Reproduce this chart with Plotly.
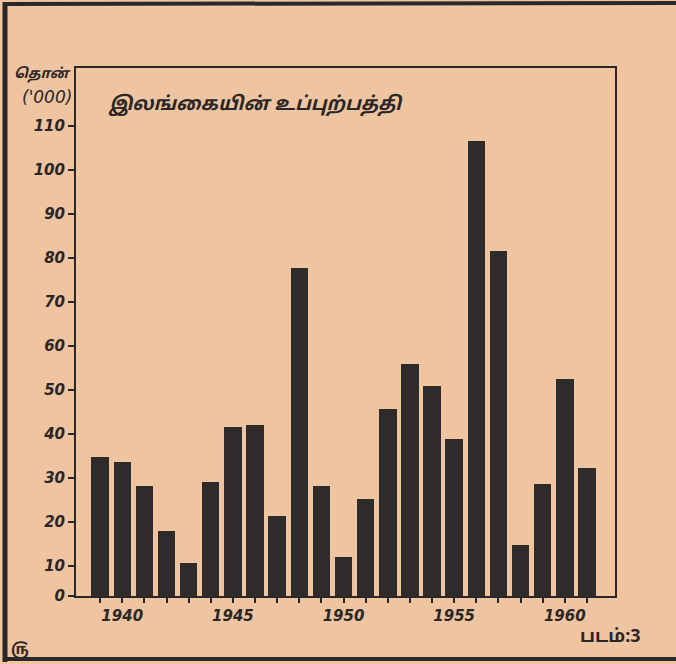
import plotly.graph_objects as go

years = list(range(1939, 1962))
production = [34.8, 33.6, 28.2, 18.0, 10.7, 29.0, 41.6, 42.0, 21.4, 77.7,
              28.2, 12.0, 25.2, 45.7, 55.9, 50.9, 38.9, 106.6, 81.6, 14.8,
              28.6, 52.5, 32.3]
y_tickvals = [3.2, 10, 20, 30, 40, 50, 60, 70, 80, 90, 100, 110]
y_ticktext = ["0", "10", "20", "30", "40", "50", "60", "70", "80", "90", "100", "110"]
x_ticktext = [str(y) if y % 5 == 0 else "" for y in years]

title_text = "இலங்கையின் உப்புற்பத்தி"
unit_text = "தொன்"
unit_sub = "('000)"
fig_label = "படம்:3"
page_mark = "௫"

W, H = 676, 664
L, R, T, B = 76, 615, 68, 596
PW, PH = R - L, B - T

def px(x):
    return (x - L) / PW

def py(y):
    return (B - y) / PH

ink = "#2b2727"
paper = "#efc4a1"
tick_font = dict(family="DejaVu Sans", size=15, color=ink, style="italic", weight="bold")

fig = go.Figure(go.Bar(
    x=years, y=production, width=0.79,
    marker=dict(color="#2f2b2b", line=dict(width=0)),
))

fig.update_layout(
    width=W, height=H,
    margin=dict(l=L, r=W - R, t=T, b=H - B, pad=0),
    paper_bgcolor=paper, plot_bgcolor=paper,
    showlegend=False,
    bargap=0,
    xaxis=dict(
        range=[1937.91, 1962.27], tickmode="array", tickvals=years, ticktext=x_ticktext,
        ticks="outside", ticklen=5, tickwidth=2, tickcolor=ink,
        showline=True, linecolor=ink, linewidth=2, mirror=True,
        showgrid=False, zeroline=False, tickfont=tick_font,
    ),
    yaxis=dict(
        range=[3.2, 123.2], tickmode="array", tickvals=y_tickvals, ticktext=y_ticktext,
        ticks="outside", ticklen=6, tickwidth=2, tickcolor=ink,
        showline=True, linecolor=ink, linewidth=2, mirror=True,
        showgrid=False, zeroline=False, tickfont=tick_font,
    ),
    shapes=[
        dict(type="line", xref="paper", yref="paper", x0=px(5), x1=px(5), y0=py(2), y1=py(662),
             line=dict(color=ink, width=5)),
        dict(type="line", xref="paper", yref="paper", x0=px(3), x1=px(676), y0=py(4), y1=py(3),
             line=dict(color=ink, width=4)),
        dict(type="line", xref="paper", yref="paper", x0=px(3), x1=px(676), y0=py(659), y1=py(659),
             line=dict(color=ink, width=4)),
    ],
    annotations=[
        dict(text=title_text, xref="paper", yref="paper", x=px(106), y=py(103),
             xanchor="left", yanchor="middle", showarrow=False,
             font=dict(family="Noto Sans, Noto Sans Tamil, sans-serif", size=19, color=ink, weight="bold", style="italic")),
        dict(text=unit_text, xref="paper", yref="paper", x=px(42), y=py(73),
             xanchor="center", yanchor="middle", showarrow=False,
             font=dict(family="Noto Sans, Noto Sans Tamil, sans-serif", size=14, color=ink, weight="bold", style="italic")),
        dict(text=unit_sub, xref="paper", yref="paper", x=px(47), y=py(97),
             xanchor="center", yanchor="middle", showarrow=False,
             font=dict(family="DejaVu Sans", size=17, color=ink, style="italic")),
        dict(text=fig_label, xref="paper", yref="paper", x=px(610), y=py(635),
             xanchor="center", yanchor="middle", showarrow=False,
             font=dict(family="Noto Sans, Noto Sans Tamil, sans-serif", size=18, color=ink, weight="bold")),
        dict(text=page_mark, xref="paper", yref="paper", x=px(20), y=py(648),
             xanchor="center", yanchor="middle", showarrow=False,
             font=dict(family="Noto Sans, Noto Sans Tamil, sans-serif", size=15, color=ink, weight="bold")),
    ],
)

fig.write_html("out.html", config={"displayModeBar": False},
               post_script="document.body.style.margin='0';document.body.style.padding='0';")
